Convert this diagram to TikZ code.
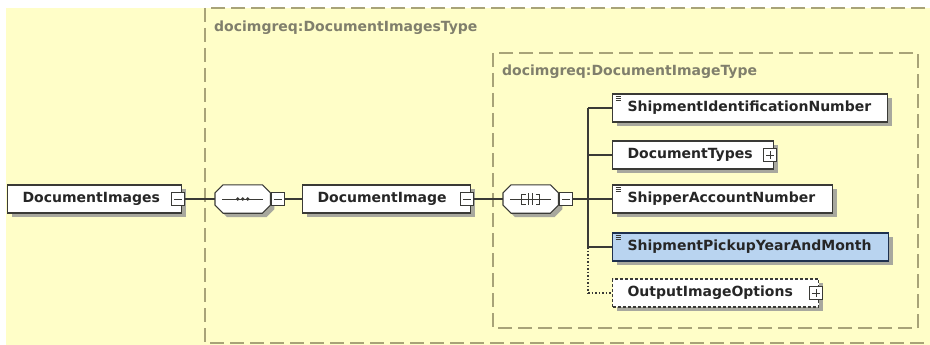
\documentclass[tikz,border=0pt]{standalone}
\usepackage{fontspec}
\setmainfont{DejaVu Sans}
\usetikzlibrary{positioning,calc,shadows}
\definecolor{schemabg}{RGB}{255,254,200}
\definecolor{schemadash}{RGB}{168,163,120}
\definecolor{schemalabel}{RGB}{128,127,108}
\definecolor{schemaline}{RGB}{58,58,54}
\definecolor{schemashadow}{RGB}{168,168,158}
\definecolor{schemasel}{RGB}{185,212,240}
\definecolor{schemaselline}{RGB}{30,48,78}

\tikzset{
  x=1pt, y=1pt,
  typeframe/.style={draw=schemadash, line width=1.3pt, dash pattern=on 14pt off 6pt},
  typelabel/.style={anchor=west, inner sep=0pt, text=schemalabel,
    font=\fontsize{14}{16}\selectfont\bfseries},
  shadowed/.style={drop shadow={shadow xshift=4pt, shadow yshift=-4pt,
    fill=schemashadow, opacity=1}},
  elembox/.style={draw=schemaline, line width=1.1pt, fill=white, anchor=west,
    minimum height=28pt, inner xsep=15pt, inner ysep=0pt, text=black!85,
    font=\fontsize{14}{16}\selectfont\bfseries, shadowed},
  plainel/.style={},
  simpleel/.style={path picture={
    \foreach \k in {0,2,4}
      \draw[schemaline, line width=.6pt]
        ([xshift=3pt, yshift=-2pt-\k pt]path picture bounding box.north west) -- ++(5pt,0);}},
  selectel/.style={simpleel, fill=schemasel, draw=schemaselline},
  optel/.style={dash pattern=on 3pt off 2pt},
  compositor/.style={anchor=west, minimum width=55pt, minimum height=28pt, inner sep=0pt},
  compoutline/.style={draw=schemaline, line width=1.1pt, fill=white, shadowed},
  minusicon/.style={draw=schemaline, line width=.9pt, fill=white,
    minimum size=13pt, inner sep=0pt,
    path picture={\draw[schemaline, line width=.9pt]
      ([xshift=2.5pt]path picture bounding box.west) -- ([xshift=-2.5pt]path picture bounding box.east);}},
  plusicon/.style={draw=schemaline, line width=.9pt, fill=white,
    minimum size=13pt, inner sep=0pt,
    path picture={\draw[schemaline, line width=.9pt]
      ([xshift=2.5pt]path picture bounding box.west) -- ([xshift=-2.5pt]path picture bounding box.east)
      ([yshift=-2.5pt]path picture bounding box.north) -- ([yshift=2.5pt]path picture bounding box.south);}},
  wire/.style={draw=schemaline, line width=1.1pt},
  optwire/.style={dash pattern=on 1.5pt off 2pt}
}

\begin{document}
\begin{tikzpicture}
  \useasboundingbox (0,0) rectangle (930,-345);
  \fill[schemabg] (6,-8) rectangle (930,-345);

  % type frames
  \draw[typeframe] (205,-8) rectangle (940,-343);
  \draw[typeframe] (493,-53) rectangle (918,-328);
  \node[typelabel] (outerlbl) at (214,-28) {docimgreq:DocumentImagesType};
  \node[typelabel] (innerlbl) at (502,-72) {docimgreq:DocumentImageType};

  % root element, sequence, inner element, choice
  \node[elembox] (docimgs) at (7,-199) {\makebox[144pt][l]{DocumentImages}};
  \node[minusicon] (docimgsicon) at ([xshift=-4pt]docimgs.east) {};
  \node[compositor] (seq) at (215,-199) {};
  \node[elembox] (docimg) at (302,-199) {\makebox[138pt][l]{DocumentImage}};
  \node[minusicon] (docimgicon) at ([xshift=-4pt]docimg.east) {};
  \node[compositor] (choice) at (503,-199) {};

  % compositor outlines and symbols
  \foreach \cp in {seq,choice}
    \draw[compoutline] ([xshift=8pt]\cp.north west) -- ([xshift=-8pt]\cp.north east)
      -- ([yshift=-8pt]\cp.north east) -- ([yshift=8pt]\cp.south east)
      -- ([xshift=-8pt]\cp.south east) -- ([xshift=8pt]\cp.south west)
      -- ([yshift=8pt]\cp.south west) -- ([yshift=-8pt]\cp.north west) -- cycle;
  \node[minusicon, anchor=west] (seqicon) at ([xshift=1pt]seq.east) {};
  \node[minusicon, anchor=west] (choiceicon) at ([xshift=1pt]choice.east) {};
  \draw[schemaline, line width=1pt] ([xshift=7pt]seq.west) -- ([xshift=-7pt]seq.east);
  \foreach \dx in {-5,0,5}
    \fill[schemaline] ([xshift=\dx pt]seq.center) circle (1.8pt);
  \draw[schemaline, line width=1pt] ([xshift=7pt]choice.west) -- ([xshift=-7pt]choice.east);
  \draw[schemaline, line width=1pt]
    ([shift={(-5,5)}]choice.center) -- ([shift={(-9,5)}]choice.center)
      -- ([shift={(-9,-5)}]choice.center) -- ([shift={(-5,-5)}]choice.center)
    ([shift={(5,5)}]choice.center) -- ([shift={(9,5)}]choice.center)
      -- ([shift={(9,-5)}]choice.center) -- ([shift={(5,-5)}]choice.center)
    ([shift={(-2,6)}]choice.center) -- ([shift={(-2,-6)}]choice.center)
    ([shift={(2,6)}]choice.center) -- ([shift={(2,-6)}]choice.center);

  % child elements
  \foreach \nm/\txt/\w/\yy/\sty in {
    sin/ShipmentIdentificationNumber/275/108/simpleel,
    dtp/DocumentTypes/161/155/plainel,
    san/ShipperAccountNumber/220/199/simpleel,
    spy/ShipmentPickupYearAndMonth/276/247/selectel,
    oio/OutputImageOptions/206/293/optel}{
    \pgfmathsetmacro{\tw}{\w-30}
    \node[elembox, \sty] (\nm) at (612,-\yy) {\makebox[\tw pt][l]{\txt}};
  }
  \node[plusicon] (dtpicon) at ([xshift=-4pt]dtp.east) {};
  \node[plusicon] (oioicon) at ([xshift=-3pt]oio.east) {};

  % connectors
  \coordinate (bar) at (588,-199);
  \draw[wire] (docimgsicon.east) -- (seq.west);
  \draw[wire] (seqicon.east) -- (docimg.west);
  \draw[wire] (docimgicon.east) -- (choice.west);
  \draw[wire] (choiceicon.east) -- (bar);
  \draw[wire] (bar |- sin.west) -- (bar |- spy.west);
  \draw[wire, optwire] (bar |- spy.west) -- (bar |- oio.west);
  \foreach \nm in {sin,dtp,san,spy}
    \draw[wire] (bar |- \nm.west) -- (\nm.west);
  \draw[wire, optwire] (bar |- oio.west) -- (oio.west);
\end{tikzpicture}
\end{document}
